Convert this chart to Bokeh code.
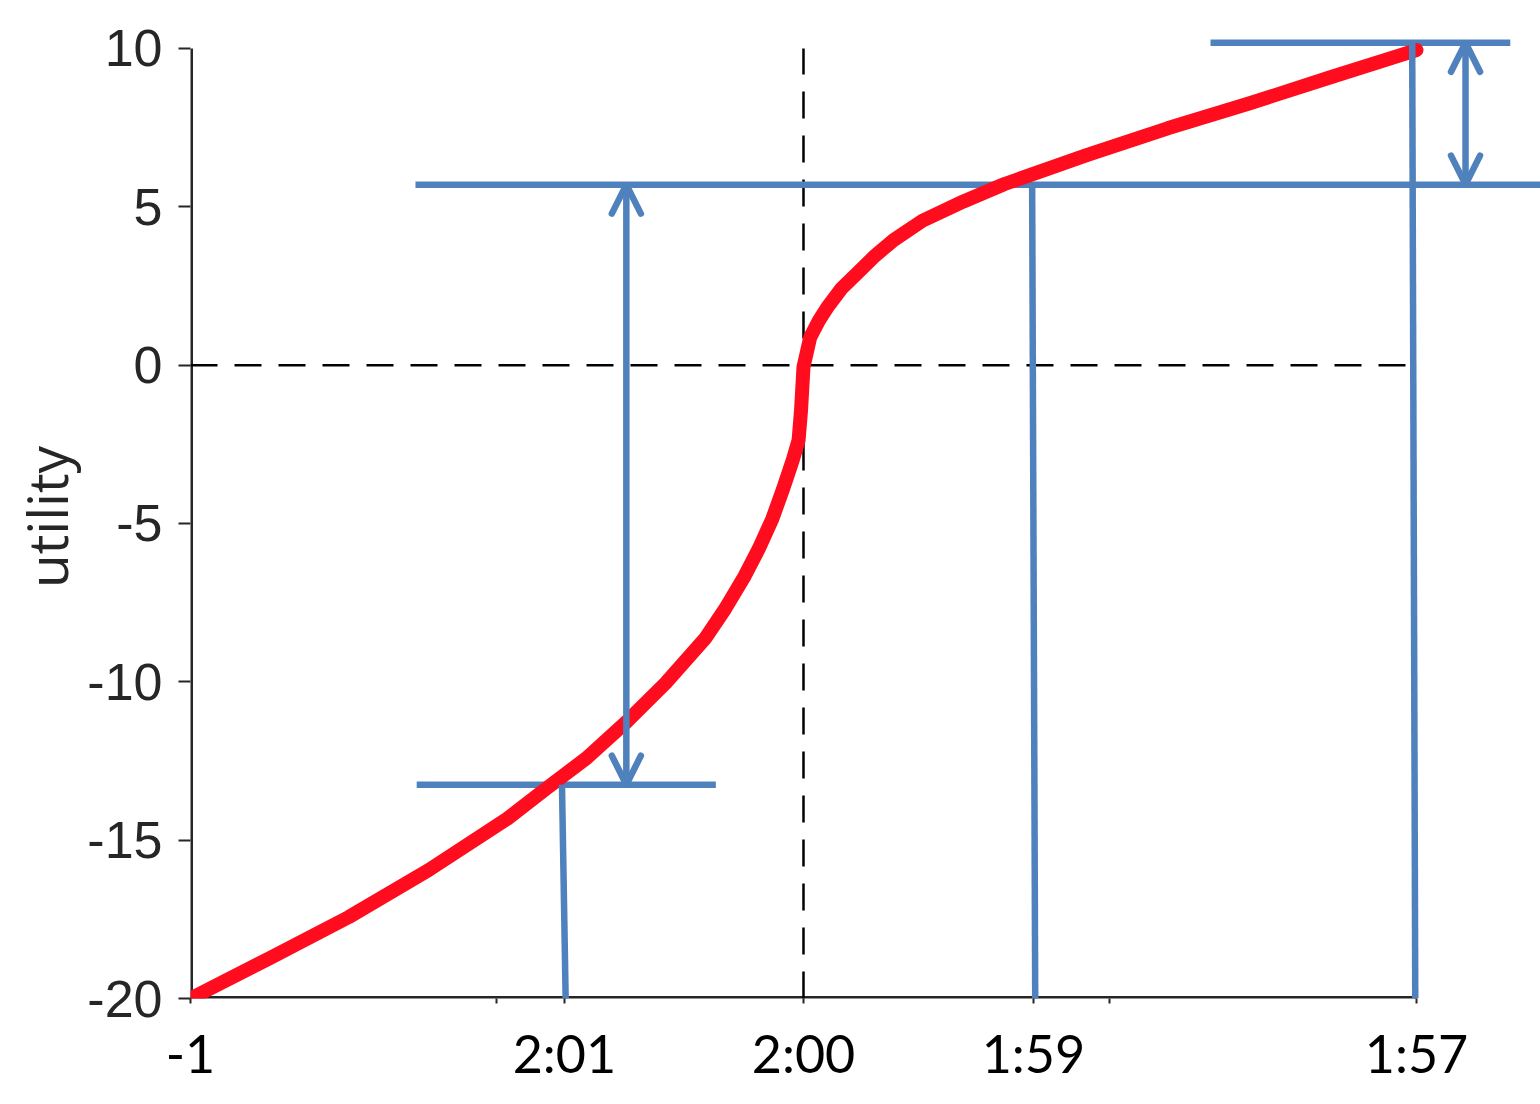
from bokeh.plotting import figure
from bokeh.models import (ColumnDataSource, Range1d, FixedTicker, Arrow, OpenHead)
from bokeh.embed import file_html
from bokeh.resources import INLINE

# ---------------- data ----------------
# utility curve (red)
curve_x = [-1.0, -0.871, -0.742, -0.612, -0.483, -0.419, -0.354, -0.289, -0.225,
           -0.160, -0.128, -0.096, -0.073, -0.051, -0.034, -0.018, -0.008, -0.004,
           0.0, 0.011, 0.025, 0.039, 0.062, 0.088, 0.117, 0.147, 0.194, 0.261, 0.328,
           0.462, 0.594, 0.728, 0.861, 1.0]
curve_y = [-20.0, -18.73, -17.43, -15.95, -14.32, -13.36, -12.41, -11.27, -10.04,
           -8.62, -7.70, -6.66, -5.80, -4.86, -3.95, -3.03, -2.37, -1.42,
           -0.06, 0.88, 1.40, 1.83, 2.42, 2.91, 3.46, 3.95, 4.56, 5.17, 5.72,
           6.63, 7.48, 8.27, 9.10, 9.95]

y_ticks = [-20, -15, -10, -5, 0, 5, 10]
y_tick_text = ["-20", "-15", "-10", "-5", "0", "5", "10"]
x_ticks = [-1, -0.5, 0, 0.5, 1]
x_tick_text = ["-1", "", "", "", ""]

time_labels = ["2:01", "2:00", "1:59", "1:57"]
time_label_x = [-0.39, 0, 0.375, 1]

# blue horizontal guide lines
hline_y = [-13.25, 5.70, 10.18]
hline_x0 = [-0.631, -0.633, 0.664]
hline_x1 = [-0.143, 1.204, 1.153]

# blue vertical guide lines (bottom -> top)
vline_x0 = [-0.388, 0.378, 0.998]
vline_x1 = [-0.394, 0.373, 0.993]
vline_y0 = [-20, -20, -20]
vline_y1 = [-13.25, 5.70, 10.18]

# double-headed arrows
arrow_x = [-0.289, 1.080]
arrow_y0 = [5.70, 10.18]
arrow_y1 = [-13.25, 5.70]

# dashed reference lines
ref_v_x = 0.0
ref_h_y = 0.0
ref_h_x_end = 0.99

# ---------------- figure ----------------
BLUE = "#4F81BD"
RED = "#FF0D1F"
AXIS = "#262626"

p = figure(width=1540, height=1100, output_backend="svg", toolbar_location=None,
           x_range=Range1d(-1.0, 1.2023), y_range=Range1d(-20, 10.41),
           min_border_left=190, min_border_right=0, min_border_top=35,
           min_border_bottom=102)
p.outline_line_color = None
p.grid.visible = False
p.background_fill_color = "white"
p.border_fill_color = "white"

# axes
p.yaxis.ticker = FixedTicker(ticks=y_ticks)
p.yaxis.major_label_overrides = {t: s for t, s in zip(y_ticks, y_tick_text)}

x_label_map = {t: s for t, s in zip(x_ticks, x_tick_text)}
x_label_map.update({t: s for t, s in zip(time_label_x, time_labels)})
p.xaxis.ticker = FixedTicker(ticks=sorted(x_label_map.keys()))
p.xaxis.major_label_overrides = x_label_map

for ax in (p.xaxis, p.yaxis):
    ax.axis_line_color = None
    ax.major_tick_line_color = AXIS
    ax.major_tick_line_width = 2
    ax.major_tick_in = 0
    ax.minor_tick_line_color = None
p.yaxis.major_label_text_font = "Liberation Sans"
p.yaxis.major_label_text_font_size = "52px"
p.yaxis.major_label_text_color = AXIS
p.yaxis.major_tick_out = 12
p.yaxis.major_label_standoff = 16

p.xaxis.major_label_text_font = "Lato"
p.xaxis.major_label_text_font_size = "52px"
p.xaxis.major_label_text_color = "black"
p.xaxis.major_tick_out = 5
p.xaxis.major_label_standoff = 18

p.yaxis.axis_label = "utility"
p.yaxis.axis_label_text_font = "Open Sans"
p.yaxis.axis_label_text_font_size = "55px"
p.yaxis.axis_label_text_font_style = "normal"
p.yaxis.axis_label_text_color = AXIS
p.yaxis.axis_label_standoff = 0

# axis lines limited to tick span
p.segment(x0=[x_ticks[0]], y0=[y_ticks[0]], x1=[x_ticks[0]], y1=[y_ticks[-1]],
          line_color=AXIS, line_width=5)
p.segment(x0=[x_ticks[0]], y0=[y_ticks[0]], x1=[x_ticks[-1]], y1=[y_ticks[0]],
          line_color=AXIS, line_width=5)

# dashed reference lines
p.segment(x0=[ref_v_x], y0=[y_ticks[0]], x1=[ref_v_x], y1=[y_ticks[-1]],
          line_color="black", line_width=2.5, line_dash="27 17")
p.segment(x0=[x_ticks[0]], y0=[ref_h_y], x1=[ref_h_x_end], y1=[ref_h_y],
          line_color="black", line_width=2.5, line_dash="27 17")

# horizontal blue guides
hsrc = ColumnDataSource(dict(x0=hline_x0, x1=hline_x1, y=hline_y))
p.segment(x0="x0", y0="y", x1="x1", y1="y", source=hsrc,
          line_color=BLUE, line_width=6.5)

# red utility curve
p.line(curve_x, curve_y, line_color=RED, line_width=14,
       line_join="round", line_cap="round")

# vertical blue guides
vsrc = ColumnDataSource(dict(x0=vline_x0, x1=vline_x1, y0=vline_y0, y1=vline_y1))
p.segment(x0="x0", y0="y0", x1="x1", y1="y1", source=vsrc,
          line_color=BLUE, line_width=6.5)

# double-headed arrows
asrc = ColumnDataSource(dict(x=arrow_x, y0=arrow_y0, y1=arrow_y1))
p.add_layout(Arrow(x_start="x", y_start="y0", x_end="x", y_end="y1", source=asrc,
                   line_color=BLUE, line_width=6.5,
                   start=OpenHead(size=29, line_color=BLUE, line_width=6.5, line_cap="round"),
                   end=OpenHead(size=29, line_color=BLUE, line_width=6.5, line_cap="round")))

open("out.html", "w").write(file_html(p, INLINE))
